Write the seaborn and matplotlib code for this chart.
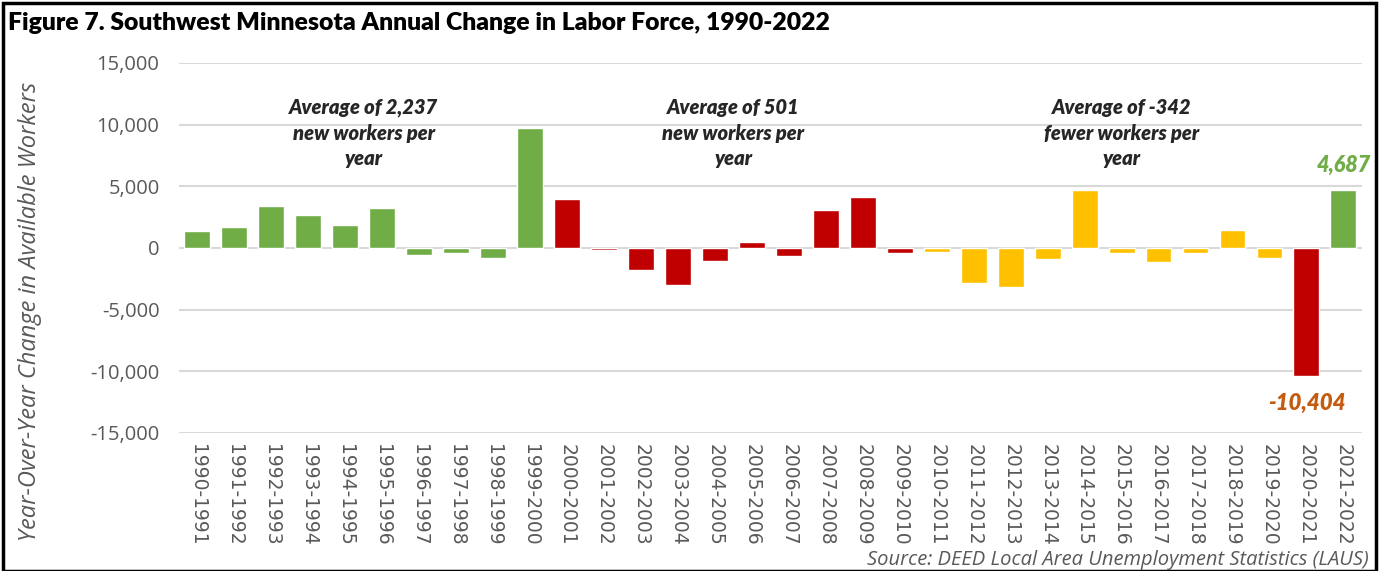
import matplotlib
matplotlib.use("Agg")
import matplotlib.pyplot as plt
import seaborn as sns
import pandas as pd
from matplotlib.patches import Rectangle
from matplotlib.ticker import FuncFormatter

periods = ["1990-1991", "1991-1992", "1992-1993", "1993-1994", "1994-1995", "1995-1996",
           "1996-1997", "1997-1998", "1998-1999", "1999-2000", "2000-2001", "2001-2002",
           "2002-2003", "2003-2004", "2004-2005", "2005-2006", "2006-2007", "2007-2008",
           "2008-2009", "2009-2010", "2010-2011", "2011-2012", "2012-2013", "2013-2014",
           "2014-2015", "2015-2016", "2016-2017", "2017-2018", "2018-2019", "2019-2020",
           "2020-2021", "2021-2022"]
change = [1380, 1680, 3390, 2655, 1840, 3225, -570, -400, -810, 9730,
          3955, -160, -1790, -3010, -1060, 460, -650, 3060, 4120, -400,
          -350, -2820, -3170, -920, 4690, -380, -1110, -400, 1490, -810,
          -10404, 4687]
groups = ["1990s"] * 10 + ["2000s"] * 10 + ["2010s"] * 10 + ["2020s-drop", "2020s-rise"]
group_colors = {"1990s": "#70AD47", "2000s": "#C00000", "2010s": "#FFC000",
                "2020s-drop": "#C00000", "2020s-rise": "#70AD47"}
averages = ["Average of 2,237\nnew workers per\nyear",
            "Average of 501\nnew workers per\nyear",
            "Average of -342\nfewer workers per\nyear"]
avg_positions = [4.5, 14.5, 25.0]

df = pd.DataFrame({"period": periods, "change": change})
colors = [group_colors[g] for g in groups]

sns.set_theme(style="white")
plt.rcParams["font.family"] = ["Open Sans", "DejaVu Sans"]

fig = plt.figure(figsize=(13.84, 5.71), dpi=100)
ax = fig.add_axes([0.1293, 0.2417, 0.8547, 0.648])

sns.barplot(data=df, x="period", y="change", hue="period", palette=colors,
            legend=False, width=0.70, ax=ax, saturation=1)

ax.set_ylim(-15000, 15000)
ax.set_xlim(-0.5, len(periods) - 0.5)
ax.set_yticks(range(-15000, 15001, 5000))
ax.yaxis.set_major_formatter(FuncFormatter(lambda v, p: f"{int(v):,}"))
ax.grid(axis="y", color="#D9D9D9", linewidth=1.5)
ax.set_axisbelow(True)
for s in ax.spines.values():
    s.set_visible(False)
ax.tick_params(axis="y", labelsize=14.5, labelcolor="#595959", length=0, pad=14)
ax.tick_params(axis="x", labelsize=13.5, labelcolor="#595959", length=0, pad=8)
for lbl in ax.get_xticklabels():
    lbl.set_family(["DejaVu Sans"])
plt.setp(ax.get_xticklabels(), rotation=270, ha="center", va="top")
ax.set_xlabel("")
ax.set_ylabel("")

fig.text(0.022, 0.455, "Year-Over-Year Change in Available Workers", rotation=90,
         ha="center", va="center", fontsize=17, style="italic", color="#595959")

fig.text(0.006, 0.960, "Figure 7. Southwest Minnesota Annual Change in Labor Force, 1990-2022",
         ha="left", va="center", fontsize=17.8, fontweight="heavy", color="black",
         family=["Lato", "DejaVu Sans"])

for txt, xp in zip(averages, avg_positions):
    ax.text(xp, 9300, txt, ha="center", va="center", fontsize=14.5,
            fontweight="heavy", style="italic", linespacing=1.4,
            family=["Lato", "DejaVu Sans"])

ax.text(31, 6700, f"{change[31]:,}", ha="center", va="center", fontsize=15.5,
        fontweight="heavy", style="italic", color="#70AD47", family=["Lato", "DejaVu Sans"])
ax.text(30, -12600, f"{change[30]:,}", ha="center", va="center", fontsize=16,
        fontweight="heavy", style="italic", color="#C55A11", family=["Lato", "DejaVu Sans"])

fig.text(0.989, 0.020, "Source: DEED Local Area Unemployment Statistics (LAUS)",
         ha="right", va="center", fontsize=14.5, style="italic", color="#595959")

fig.patches.append(Rectangle((0.002, 0.0), 0.9925, 0.995, transform=fig.transFigure,
                             fill=False, edgecolor="black", linewidth=2.5))

fig.savefig("out.png", dpi=100)
